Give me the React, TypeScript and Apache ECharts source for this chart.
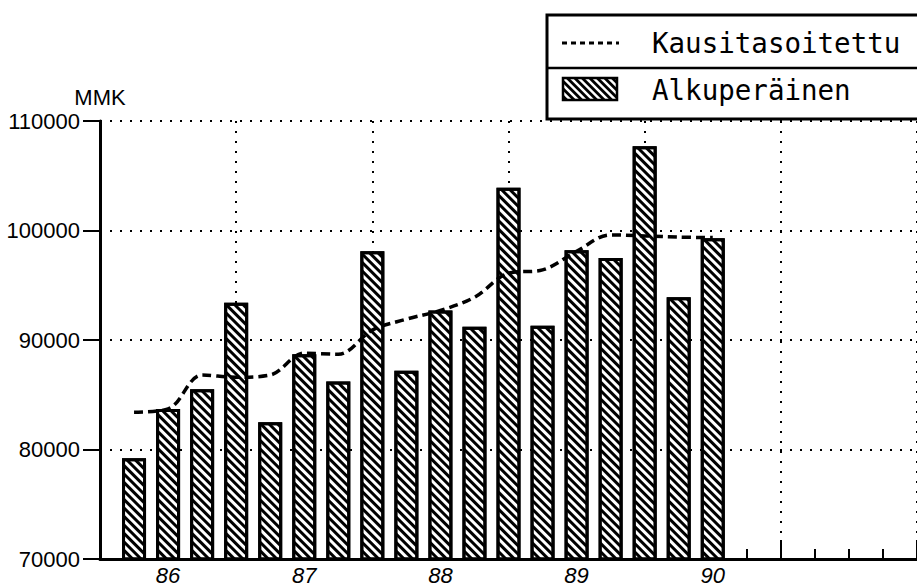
import React, { useEffect, useRef } from "react";
import * as echarts from "echarts";

// Quarterly data, x position = quarter index on the axis (1 = first bar)
const quarterIndex = [1, 2, 3, 4, 5, 6, 7, 8, 9, 10, 11, 12, 13, 14, 15, 16, 17, 18];
const originalValues = [79200, 83700, 85500, 93400, 82500, 88700, 86200, 98100, 87200, 92700, 91200, 103900, 91300, 98200, 97500, 107700, 93900, 99300];
const seasonalValues = [83400, 83700, 86800, 86600, 86800, 88800, 88700, 90900, 91900, 92700, 93900, 96100, 96400, 98100, 99600, 99500, 99400, 99350];
const yearLabels = ["86", "87", "88", "89", "90"];
const yearLabelPos = [2, 6, 10, 14, 18];
const seriesNames = ["Kausitasoitettu", "Alkuperäinen"];

const LABEL_FONT = "'Liberation Sans', Arial, sans-serif";
const MONO_FONT = "'DejaVu Sans Mono', monospace";

function hatchLines(x0: number, y0: number, w: number, h: number, step: number) {
  const out: any[] = [];
  for (let c = -h + step / 2; c < w; c += step) {
    const t0 = Math.max(0, -c);
    const t1 = Math.min(h, w - c);
    if (t1 <= t0) continue;
    out.push({
      type: "line",
      z: 7,
      shape: { x1: x0 + c + t0, y1: y0 + t0, x2: x0 + c + t1, y2: y0 + t1 },
      style: { stroke: "#000", lineWidth: 2.8 },
    });
  }
  return out;
}

export default function App() {
  const ref = useRef<HTMLDivElement>(null);
  useEffect(() => {
    if (!ref.current) return;
    const chart = echarts.init(ref.current, undefined, { renderer: "svg" });
    const decal = {
      symbol: "rect",
      symbolSize: 1,
      dashArrayX: [1, 0],
      dashArrayY: [3, 3],
      rotation: Math.PI / 4,
      color: "#000",
    };
    chart.setOption({
      animation: false,
      backgroundColor: "#fff",
      grid: { left: 100, right: -7, top: 121, bottom: 25, containLabel: false },
      xAxis: [
        {
          type: "value",
          min: 0,
          max: 24,
          interval: 1,
          axisLine: { show: true, lineStyle: { color: "#000", width: 3 } },
          axisTick: { show: true, inside: true, length: 10, lineStyle: { color: "#000", width: 2 } },
          splitLine: { show: false },
          axisLabel: {
            show: true,
            margin: 5,
            color: "#000",
            fontFamily: LABEL_FONT,
            fontSize: 22,
            fontStyle: "italic",
            showMinLabel: false,
            showMaxLabel: false,
            formatter: (v: number) => {
              const i = yearLabelPos.indexOf(v);
              return i >= 0 ? yearLabels[i] : "";
            },
          },
        },
        {
          type: "value",
          position: "bottom",
          min: 0,
          max: 24,
          interval: 4,
          axisLine: { show: false },
          axisTick: { show: true, inside: true, length: 19, lineStyle: { color: "#000", width: 2 } },
          axisLabel: { show: false },
          splitLine: { show: true, lineStyle: { color: "#000", width: 2, type: [2, 8] } },
        },
      ],
      yAxis: {
        type: "value",
        min: 70000,
        max: 110000,
        interval: 10000,
        name: "MMK",
        nameLocation: "end",
        nameGap: 13,
        nameTextStyle: { color: "#000", fontFamily: LABEL_FONT, fontSize: 22, align: "center", verticalAlign: "bottom" },
        axisLine: { show: true, lineStyle: { color: "#000", width: 3 } },
        axisTick: { show: true, inside: false, length: 17, lineStyle: { color: "#000", width: 2 } },
        axisLabel: { color: "#000", fontFamily: LABEL_FONT, fontSize: 22, margin: 20, formatter: (v: number) => String(v) },
        splitLine: { show: true, lineStyle: { color: "#000", width: 2, type: [2, 8] } },
      },
      graphic: [
        {
          type: "rect",
          z: 5,
          shape: { x: 547, y: 15, width: 400, height: 104 },
          style: { fill: "#fff", stroke: "#000", lineWidth: 3 },
        },
        {
          type: "line",
          z: 6,
          shape: { x1: 547, y1: 68, x2: 917, y2: 68 },
          style: { stroke: "#000", lineWidth: 2.5 },
        },
        {
          type: "line",
          z: 6,
          shape: { x1: 562, y1: 43, x2: 619, y2: 43 },
          style: { stroke: "#000", lineWidth: 3, lineDash: [5, 4] },
        },
        {
          type: "text",
          z: 6,
          x: 652,
          y: 43,
          style: { text: seriesNames[0], fill: "#000", font: `27.5px ${MONO_FONT}`, verticalAlign: "middle" },
        },
        {
          type: "rect",
          z: 6,
          shape: { x: 563, y: 78, width: 54, height: 22 },
          style: { fill: "#fff", stroke: "#000", lineWidth: 2.5 },
        },
        ...hatchLines(563, 78, 54, 22, 7.5),
        {
          type: "text",
          z: 6,
          x: 652,
          y: 90,
          style: { text: seriesNames[1], fill: "#000", font: `27.5px ${MONO_FONT}`, verticalAlign: "middle" },
        },
      ],
      series: [
        {
          name: seriesNames[0],
          type: "line",
          xAxisIndex: 0,
          data: quarterIndex.map((q, i) => [q, seasonalValues[i]]),
          symbol: "none",
          smooth: 0.35,
          z: 4,
          lineStyle: { color: "#000", width: 3.5, type: [9, 5] },
          itemStyle: { color: "#000" },
        },
        {
          name: seriesNames[1],
          type: "bar",
          xAxisIndex: 0,
          data: quarterIndex.map((q, i) => [q, originalValues[i]]),
          barWidth: 24,
          z: 3,
          itemStyle: { color: "#fff", borderColor: "#000", borderWidth: 3, decal },
        },
      ],
    });
    return () => chart.dispose();
  }, []);
  return <div ref={ref} style={{ width: 917, height: 586, position: "absolute", left: 0, top: 0 }} />;
}
